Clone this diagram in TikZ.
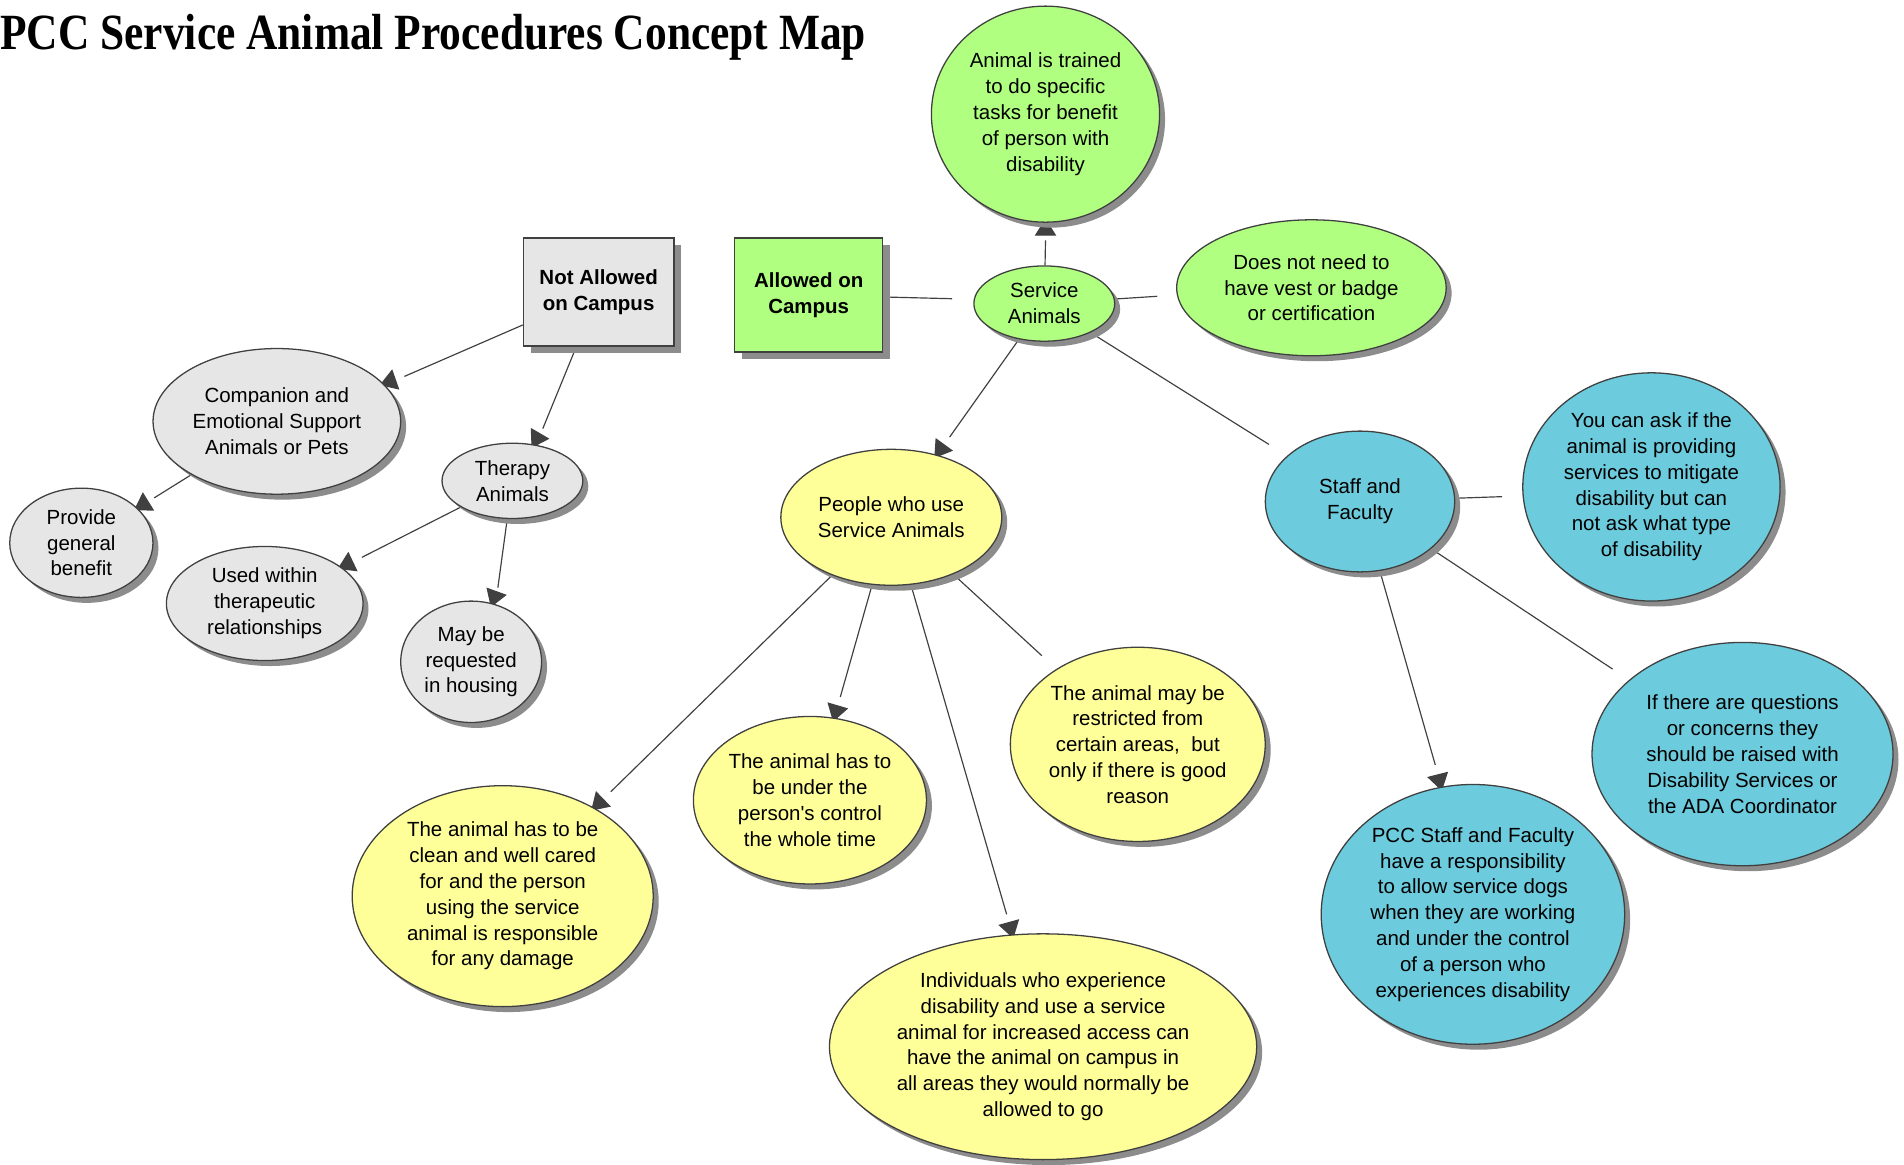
\documentclass[tikz,border=0pt]{standalone}
\usepackage{fontspec}
\setmainfont{Liberation Sans}
\newfontfamily\titlefont{Liberation Serif}
\usepackage{graphicx}
\usepackage{xcolor}
\usetikzlibrary{shapes.geometric}
\usetikzlibrary{shadows}
\usetikzlibrary{arrows.meta}
\definecolor{cmgreen}{RGB}{176,255,128}
\definecolor{cmgray}{RGB}{230,230,230}
\definecolor{cmyellow}{RGB}{255,255,153}
\definecolor{cmblue}{RGB}{108,203,220}
\definecolor{cmline}{RGB}{64,64,64}
\definecolor{cmshadow}{RGB}{140,140,140}
\pgfdeclarelayer{back}
\pgfsetlayers{back,main}

\tikzset{
	concept/.style={ellipse, draw=cmline, line width=0.6pt, inner sep=0pt, align=center,
		font=\fontsize{9.6}{12.1}\selectfont,
		drop shadow={shadow xshift=0.09cm, shadow yshift=-0.09cm, fill=cmshadow, opacity=1}},
	campus/.style={rectangle, draw=cmline, line width=0.6pt, inner sep=0pt, align=center,
		font=\fontsize{9.6}{12.1}\selectfont\bfseries,
		drop shadow={shadow xshift=0.12cm, shadow yshift=-0.12cm, fill=cmshadow, opacity=1}},
	sz/.style 2 args={minimum width=#1*0.04cm, minimum height=#2*0.04cm},
	link/.style={draw=cmline, line width=0.55pt},
	% only the head of the second half of a link is seen
	tip/.style={draw=cmline, line width=0.55pt, dash pattern=on 0pt off 100cm,
		-{Triangle[length=8pt,width=10pt]}, shorten >=-2pt}
}

\begin{document}
\begin{tikzpicture}[x=0.02cm, y=-0.02cm]
	\useasboundingbox (0,0) rectangle (1568,959.4);
	
	\node[anchor=base west, inner sep=0pt] (title) at (0,41) {\resizebox{14.26cm}{0.58cm}{\titlefont\bfseries PCC Service Animal Procedures Concept Map}};
	
	% service animals
	\node[concept, fill=cmgreen, sz={94}{89}] (tr) at (861,94) {Animal is trained\\to do specific\\tasks for benefit\\of person with\\disability};
	\node[concept, fill=cmgreen, sz={58}{31}] (sa) at (860,250) {Service\\Animals};
	\node[concept, fill=cmgreen, sz={111}{56}] (nv) at (1080,237) {Does not need to\\have vest or badge\\or certification};
	\node[campus, fill=cmgreen, sz={61}{47}] (al) at (666,243) {Allowed on\\Campus};
	
	% not allowed
	\node[campus, fill=cmgray, sz={62}{44.5}] (na) at (493,240.5) {Not Allowed\\on Campus};
	\node[concept, fill=cmgray, sz={102}{60}] (cp) at (228,347) {Companion and\\Emotional Support\\Animals or Pets};
	\node[concept, fill=cmgray, sz={59}{45}] (pg) at (67,447) {Provide\\general\\benefit};
	\node[concept, fill=cmgray, sz={58}{31}] (th) at (422,396) {Therapy\\Animals};
	\node[concept, fill=cmgray, sz={81}{47}] (ut) at (218,497) {Used within\\therapeutic\\relationships};
	\node[concept, fill=cmgray, sz={58}{50}] (mh) at (388,545) {May be\\requested\\in housing};
	
	% people who use them
	\node[concept, fill=cmyellow, sz={91}{56}] (pu) at (734,426) {People who use\\Service Animals};
	\node[concept, fill=cmyellow, sz={124}{91}] (cl) at (414,738) {The animal has to be\\clean and well cared\\for and the person\\using the service\\animal is responsible\\for any damage};
	\node[concept, fill=cmyellow, sz={96}{69}] (uc) at (667,659) {The animal has to\\be under the\\person\textquotesingle s control\\the whole time};
	\node[concept, fill=cmyellow, sz={105}{80}] (rs) at (937,613) {The animal may be\\restricted from\\certain areas,\ \ but\\only if there is good\\reason};
	\node[concept, fill=cmyellow, sz={176}{93}] (ia) at (859,862) {Individuals who experience\\disability and use a service\\animal for increased access can\\have the animal on campus in\\all areas they would normally be\\allowed to go};
	
	% staff and faculty
	\node[concept, fill=cmblue, sz={78}{58}] (sf) at (1120,413) {Staff and\\Faculty};
	\node[concept, fill=cmblue, sz={106}{94}] (ya) at (1360,401) {You can ask if the\\animal is providing\\services to mitigate\\disability but can\\not ask what type\\of disability};
	\node[concept, fill=cmblue, sz={124}{92}] (iq) at (1435,621) {If there are questions\\or concerns they\\should be raised with\\Disability Services or\\the ADA Coordinator};
	\node[concept, fill=cmblue, sz={125}{107}] (pr) at (1213,753) {PCC Staff and Faculty\\have a responsibility\\to allow service dogs\\when they are working\\and under the control\\of a person who\\experiences disability};
	
	% empty linking phrases
	\coordinate (l-tr) at (861,198);
	\coordinate (l-al) at (784,246);
	\coordinate (l-nv) at (953,244);
	\coordinate (l-pu) at (782,360);
	\coordinate (l-sf) at (1045,366);
	\coordinate (l-cp) at (333,310);
	\coordinate (l-th) at (447,353);
	\coordinate (l-pg) at (127,410);
	\coordinate (l-ut) at (298,459);
	\coordinate (l-mh) at (410,484);
	\coordinate (l-cl) at (503,652);
	\coordinate (l-uc) at (692,574);
	\coordinate (l-ia) at (829,753);
	\coordinate (l-rs) at (858,540);
	\coordinate (l-ya) at (1237,409);
	\coordinate (l-iq) at (1328,551);
	\coordinate (l-pr) at (1182,630);
	
	\begin{pgfonlayer}{back}
	\draw[link] (sa) -- (l-tr);
	\draw[tip] (l-tr) -- (tr);
	\draw[link] (al) -- (l-al);
	\draw[link] (sa) -- (l-nv);
	\draw[link] (sa) -- (l-pu);
	\draw[tip] (l-pu) -- (pu);
	\draw[link] (sa) -- (l-sf);
	
	\draw[link] (na) -- (l-cp);
	\draw[tip] (l-cp) -- (cp);
	\draw[link] (na) -- (l-th);
	\draw[tip] (l-th) -- (th);
	\draw[link] (cp) -- (l-pg);
	\draw[tip] (l-pg) -- (pg);
	\draw[link] (th) -- (l-ut);
	\draw[tip] (l-ut) -- (ut);
	\draw[link] (th) -- (l-mh);
	\draw[tip] (l-mh) -- (mh);
	
	\draw[link] (pu) -- (l-cl);
	\draw[tip] (l-cl) -- (cl);
	\draw[link] (pu) -- (l-uc);
	\draw[tip] (l-uc) -- (uc);
	\draw[link] (pu) -- (l-ia);
	\draw[tip] (l-ia) -- (ia);
	\draw[link] (pu) -- (l-rs);
	
	\draw[link] (sf) -- (l-ya);
	\draw[link] (sf) -- (l-iq);
	\draw[link] (sf) -- (l-pr);
	\draw[tip] (l-pr) -- (pr);
	\end{pgfonlayer}
	
\end{tikzpicture}
\end{document}
